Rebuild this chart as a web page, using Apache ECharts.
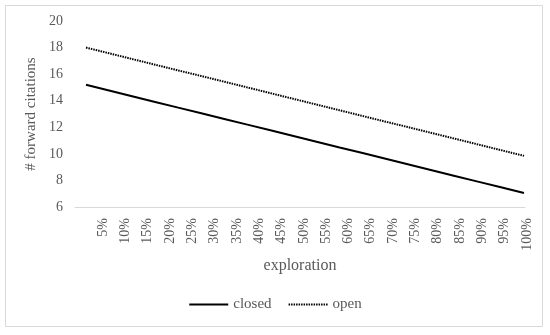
<!DOCTYPE html>
<html>
<head>
<meta charset="utf-8">
<script src="https://cdn.jsdelivr.net/npm/echarts@6/dist/echarts.min.js"></script>
<style>html,body{margin:0;padding:0;background:#fff;}#c{width:550px;height:335px;}</style>
</head>
<body>
<div id="c"></div>
<script>
var categories = ['5%','10%','15%','20%','25%','30%','35%','40%','45%','50%','55%','60%','65%','70%','75%','80%','85%','90%','95%','100%'];
var closedValues = [15.2,14.77,14.34,13.91,13.48,13.06,12.63,12.2,11.77,11.34,10.91,10.48,10.06,9.63,9.2,8.77,8.34,7.91,7.48,7.05];
var openValues = [18.0,17.57,17.14,16.71,16.28,15.86,15.43,15.0,14.57,14.14,13.71,13.28,12.85,12.42,12.0,11.57,11.14,10.71,10.28,9.85];
var yTicks = {min: 6, max: 20, interval: 2};

var FONT = '"Liberation Serif", "DejaVu Serif", serif';
var GRAY = '#595959';
var chart = echarts.init(document.getElementById('c'), null, {renderer: 'canvas'});
chart.setOption({
  animation: false,
  backgroundColor: '#fff',
  textStyle: {fontFamily: FONT, color: GRAY},
  graphic: [{type: 'rect', shape: {x: 5.5, y: 5.5, width: 537, height: 321}, style: {fill: 'none', stroke: '#d9d9d9', lineWidth: 1}, silent: true}],
  grid: [
    {left: 75, right: 25, top: 21, bottom: 128},
    {left: 103, right: 23, top: 21, bottom: 128},
    {left: 86, right: 26, top: 21, bottom: 128}
  ],
  xAxis: [
    {gridIndex: 0, type: 'value', min: 0, max: 1, axisLine: {show: true, lineStyle: {color: '#d9d9d9', width: 1}}, axisTick: {show: false}, axisLabel: {show: false}, splitLine: {show: false},
     name: 'exploration', nameLocation: 'middle', nameGap: 51, nameTextStyle: {fontFamily: FONT, fontSize: 16, color: GRAY}},
    {gridIndex: 1, type: 'category', boundaryGap: false, data: categories, axisLine: {show: false}, axisTick: {show: false}, splitLine: {show: false},
     axisLabel: {interval: 0, rotate: 90, margin: 11, fontFamily: FONT, fontSize: 14, color: GRAY}},
    {gridIndex: 2, type: 'category', boundaryGap: false, data: categories, show: false}
  ],
  yAxis: [
    {gridIndex: 0, type: 'value', min: yTicks.min, max: yTicks.max, show: false},
    {gridIndex: 1, type: 'value', min: yTicks.min, max: yTicks.max, show: false},
    {gridIndex: 2, type: 'value', min: yTicks.min, max: yTicks.max, interval: yTicks.interval,
     axisLine: {show: false}, axisTick: {show: false}, splitLine: {show: false},
     axisLabel: {margin: 23, fontFamily: FONT, fontSize: 14, color: GRAY},
     name: '# forward citations', nameLocation: 'middle', nameGap: 41, nameRotate: 90,
     nameTextStyle: {fontFamily: FONT, fontSize: 15, color: GRAY}}
  ],
  legend: {
    left: 'center', top: 292, itemWidth: 39, itemHeight: 10, itemGap: 16,
    itemStyle: {opacity: 0},
    textStyle: {fontFamily: FONT, fontSize: 15, color: GRAY},
    data: ['closed', 'open']
  },
  series: [
    {name: 'closed', type: 'line', xAxisIndex: 2, yAxisIndex: 2, data: closedValues, symbol: 'none', showSymbol: false,
     lineStyle: {color: '#000', width: 2, type: 'solid'}, itemStyle: {color: '#000'}},
    {name: 'open', type: 'line', xAxisIndex: 2, yAxisIndex: 2, data: openValues, symbol: 'none', showSymbol: false,
     lineStyle: {color: '#000', width: 2, type: [1.5, 1]}, itemStyle: {color: '#000'}}
  ]
});
</script>
</body>
</html>
